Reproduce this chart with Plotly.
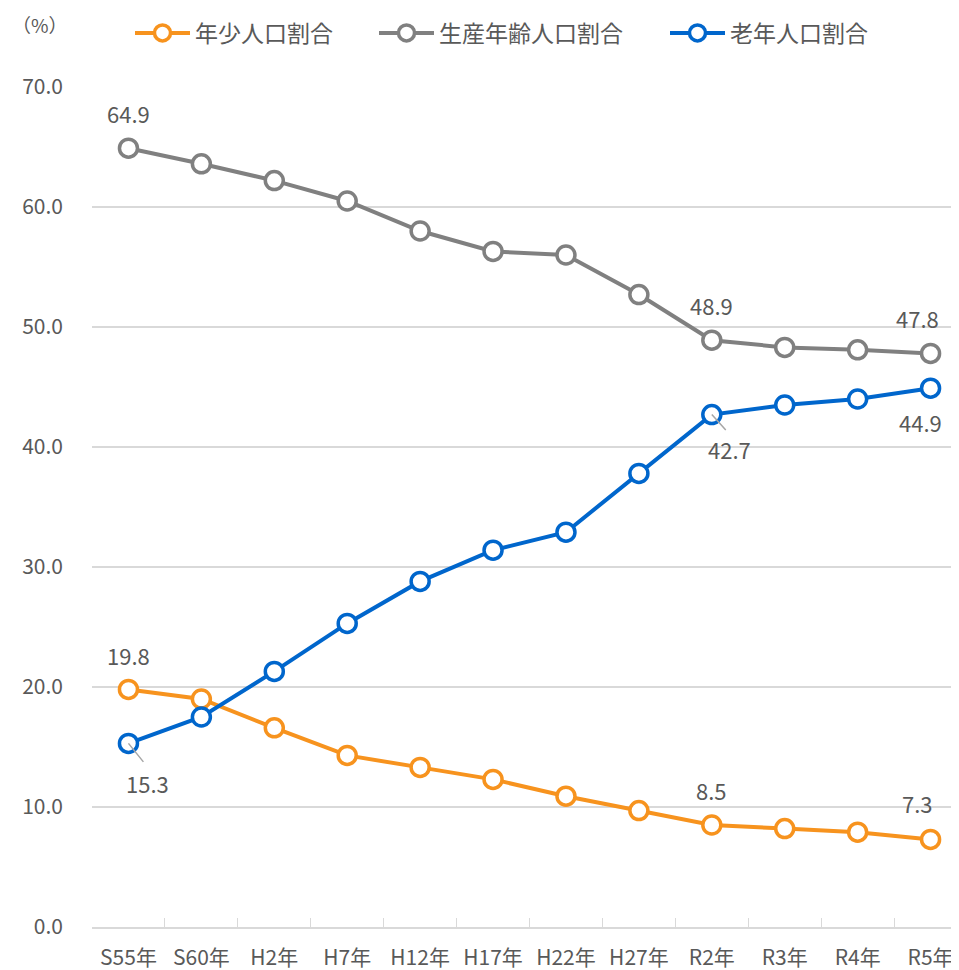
import plotly.graph_objects as go

years = ["S55年", "S60年", "H2年", "H7年", "H12年", "H17年", "H22年", "H27年", "R2年", "R3年", "R4年", "R5年"]
young = [19.8, 19.0, 16.6, 14.3, 13.3, 12.3, 10.9, 9.7, 8.5, 8.2, 7.9, 7.3]
working = [64.9, 63.6, 62.2, 60.5, 58.0, 56.3, 56.0, 52.7, 48.9, 48.3, 48.1, 47.8]
elderly = [15.3, 17.5, 21.3, 25.3, 28.8, 31.4, 32.9, 37.8, 42.7, 43.5, 44.0, 44.9]

names = ["年少人口割合", "生産年齢人口割合", "老年人口割合"]
colors = ["#F7931E", "#808080", "#0066CC"]
legend_ids = ["legend", "legend2", "legend3"]
legend_x = [122, 366, 657]
font = "Noto Sans CJK JP"
txt = "#595959"

fig = go.Figure()
for name, vals, col, lg in zip(names, [young, working, elderly], colors, legend_ids):
    fig.add_trace(go.Scatter(
        x=years, y=vals, name=name, mode="lines+markers", legend=lg,
        line=dict(color=col, width=4),
        marker=dict(symbol="circle", size=18, color="white", line=dict(color=col, width=3.5)),
        cliponaxis=False,
    ))

# data labels: (series, index, x offset, y offset, leader line)
labels = [
    (working, 0, 0, -35, False), (working, 8, 0, -35, False), (working, 11, -13, -35, False),
    (young, 0, 0, -34, False), (young, 8, 0, -35, False), (young, 11, -13, -36, False),
    (elderly, 0, 19, 40, True), (elderly, 8, 18, 34, True), (elderly, 11, -10, 34, False),
]
for vals, i, ax, ay, lead in labels:
    if lead:
        fig.add_annotation(x=years[i], y=vals[i], ax=ax * 0.85, ay=ay * 0.5, xref="x", yref="y",
                           showarrow=True, arrowhead=0, arrowwidth=1.5, arrowcolor="#A6A6A6",
                           text="", standoff=0)
    fig.add_annotation(x=years[i], y=vals[i], ax=ax, ay=ay, xref="x", yref="y",
                       showarrow=True, arrowcolor="rgba(0,0,0,0)", arrowwidth=0.1,
                       text=f"{vals[i]:.1f}", font=dict(family=font, size=22, color=txt))

fig.add_annotation(x=-0.095, y=1.074, xref="paper", yref="paper", xanchor="left", yanchor="middle",
                   text="（%）", showarrow=False, font=dict(family=font, size=19, color=txt))

legend_style = dict(orientation="h", yref="container", xref="container",
                    yanchor="middle", xanchor="left", itemwidth=55,
                    font=dict(family=font, size=23, color=txt), bgcolor="rgba(0,0,0,0)")
fig.update_layout(
    width=959, height=970,
    margin=dict(l=84, r=8, t=79, b=51),
    paper_bgcolor="white", plot_bgcolor="white",
    showlegend=True,
    font=dict(family=font, color=txt),
)
for lg, lx in zip(legend_ids, legend_x):
    fig.update_layout({lg: dict(legend_style, x=lx / 959, y=1 - 25 / 970)})

fig.update_xaxes(
    range=[-0.5, 11.39], showgrid=False, showline=True, linecolor="#D9D9D9", linewidth=1.5,
    ticks="inside", tickson="boundaries", ticklen=9, tickcolor="#D9D9D9",
    tickfont=dict(family=font, size=21, color=txt), ticklabelstandoff=11, automargin=False,
)
fig.update_yaxes(
    range=[0, 70], dtick=10, tickformat=".1f", showgrid=True, gridcolor="#D9D9D9", gridwidth=1.5,
    zeroline=False, showline=False, tickfont=dict(family=font, size=21, color=txt),
    ticklabelstandoff=28, automargin=False,
)

fig.write_html("out.html")
